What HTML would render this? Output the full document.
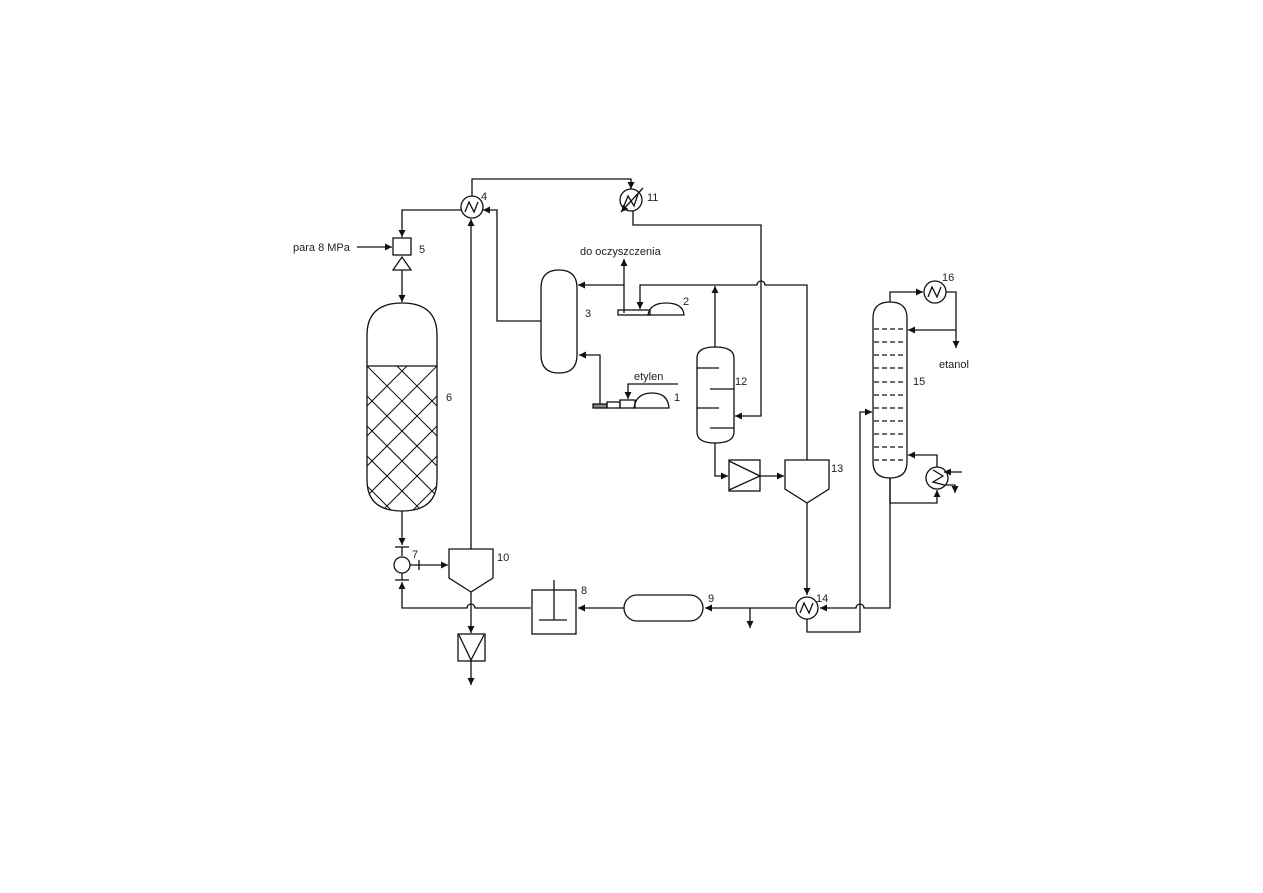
<!DOCTYPE html>
<html><head><meta charset="utf-8"><style>
html,body{margin:0;padding:0;background:#fff;}
svg{display:block;}
text{font-family:"Liberation Sans",sans-serif;font-size:11px;fill:#222;}
</style></head><body>
<svg width="1263" height="893" viewBox="0 0 1263 893" xmlns="http://www.w3.org/2000/svg">
<defs>
<marker id="a" viewBox="0 0 10 10" refX="10" refY="5" markerWidth="7" markerHeight="7" orient="auto-start-reverse" markerUnits="userSpaceOnUse">
<path d="M0,0 L10,5 L0,10 z" fill="#111"/></marker>
<clipPath id="hc"><rect x="367" y="366" width="70" height="150"/></clipPath>
<clipPath id="vc"><path d="M367,335 Q367,303 402,303 Q437,303 437,335 L437,480 Q437,511 402,511 Q367,511 367,480 Z"/></clipPath>
</defs>
<g fill="none" stroke="#111" stroke-width="1.3">
<!-- top loop 4 -> 11 -->
<path d="M472,196 V179 H631 V189" marker-end="url(#a)"/>
<circle cx="472" cy="207" r="11"/>
<path d="M465,212 L469,202 L474,212 L478,202"/>
<circle cx="631" cy="200" r="11"/>
<path d="M624,206 L628,196 L634,206 L638,194"/>
<path d="M643,188 L621,212" marker-end="url(#a)"/>
<path d="M633,211 V225 H761 V416 H735" marker-end="url(#a)"/>
<!-- 4 -> 5 -->
<path d="M461,210 H402 V237" marker-end="url(#a)"/>
<path d="M357,247 H392" marker-end="url(#a)"/>
<rect x="393" y="238" width="18" height="17"/>
<path d="M393,270 L402,257 L411,270 Z"/>
<path d="M402,270 V302" marker-end="url(#a)"/>
<!-- vessel 6 -->
<path d="M367,335 Q367,303 402,303 Q437,303 437,335 L437,480 Q437,511 402,511 Q367,511 367,480 Z"/>
<line x1="367" y1="366" x2="437" y2="366"/>
<g clip-path="url(#vc)"><g clip-path="url(#hc)" stroke-width="1">
<path d="M337,366 L487,516 M367,366 L517,516 M397,366 L547,516 M307,366 L457,516 M277,366 L427,516 M247,366 L397,516 M217,366 L367,516"/>
<path d="M467,366 L317,516 M437,366 L287,516 M407,366 L257,516 M497,366 L347,516 M527,366 L377,516 M557,366 L407,516 M587,366 L437,516"/>
</g></g>
<!-- 6 -> 7 -->
<path d="M402,511 V545" marker-end="url(#a)"/>
<line x1="395" y1="547" x2="409" y2="547"/>
<line x1="402" y1="547" x2="402" y2="556"/>
<circle cx="402" cy="565" r="8"/>
<line x1="402" y1="573" x2="402" y2="580"/>
<line x1="395" y1="580" x2="409" y2="580"/>
<path d="M410,565 H448" marker-end="url(#a)"/>
<line x1="419" y1="560" x2="419" y2="570"/>
<!-- 10 -->
<path d="M449,549 H493 V578 L471,592 L449,578 Z"/>
<path d="M471,549 V219" marker-end="url(#a)"/>
<path d="M471,592 V633" marker-end="url(#a)"/>
<rect x="458" y="634" width="27" height="27"/>
<path d="M459,635 L471,660 L484,635"/>
<path d="M471,661 V685" marker-end="url(#a)"/>
<!-- return from 8 -->
<path d="M531,608 H475 A4,4 0 0 0 467,608 H402 V582" marker-end="url(#a)"/>
<rect x="532" y="590" width="44" height="44"/>
<line x1="554" y1="580" x2="554" y2="620"/>
<line x1="539" y1="620" x2="567" y2="620"/>
<!-- 9 -->
<rect x="624" y="595" width="79" height="26" rx="13"/>
<path d="M624,608 H578" marker-end="url(#a)"/>
<path d="M795,608 H705" marker-end="url(#a)"/>
<path d="M750,608 V628" marker-end="url(#a)"/>
<!-- 14 -->
<circle cx="807" cy="608" r="11"/>
<path d="M800,613 L804,603 L809,613 L813,603"/>
<path d="M890,478 V608 H864 A4,4 0 0 0 856,608 H820" marker-end="url(#a)"/>
<path d="M807,619 V632 H860 V412 H872" marker-end="url(#a)"/>
<!-- 13 -->
<path d="M785,460 H829 V489 L807,503 L785,489 Z"/>
<path d="M807,503 V595" marker-end="url(#a)"/>
<path d="M807,460 V285 H765 A4,4 0 0 0 757,285 H640 V309" marker-end="url(#a)"/>
<!-- 12 -->
<path d="M697,358 Q697,347 715,347 Q734,347 734,358 L734,432 Q734,443 715,443 Q697,443 697,432 Z"/>
<line x1="697" y1="368" x2="719" y2="368"/>
<line x1="710" y1="389" x2="734" y2="389"/>
<line x1="697" y1="408" x2="719" y2="408"/>
<line x1="710" y1="428" x2="734" y2="428"/>
<path d="M715,347 V286" marker-end="url(#a)"/>
<path d="M715,443 V476 H728" marker-end="url(#a)"/>
<rect x="729" y="460" width="31" height="31"/>
<path d="M729,461 L760,476 L729,490"/>
<path d="M760,476 H784" marker-end="url(#a)"/>
<!-- 3 -->
<path d="M541,288 Q541,270 559,270 Q577,270 577,288 L577,355 Q577,373 559,373 Q541,373 541,355 Z"/>
<path d="M541,321 H497 V210 H483" marker-end="url(#a)"/>
<path d="M624,313 V285 H578" marker-end="url(#a)"/>
<path d="M624,285 V259" marker-end="url(#a)"/>
<!-- 2 -->
<rect x="618" y="310" width="32" height="5"/>
<path d="M648,315 Q650,303 666,303 Q683,303 684,315 Z"/>
<!-- 1 -->
<path d="M600,404 V355 H579" marker-end="url(#a)"/>
<rect x="593" y="404" width="14" height="4" fill="#888"/>
<rect x="607" y="402" width="13" height="6"/>
<rect x="620" y="400" width="15" height="8"/>
<path d="M634,408 Q636,393 652,393 Q668,393 669,408 Z"/>
<path d="M678,384 H628 V399" marker-end="url(#a)"/>
<!-- 15 -->
<path d="M873,318 Q873,302 890,302 Q907,302 907,318 L907,462 Q907,478 890,478 Q873,478 873,462 Z"/>
<g stroke-dasharray="5,3">
<line x1="874" y1="329" x2="906" y2="329"/><line x1="874" y1="342" x2="906" y2="342"/>
<line x1="874" y1="355" x2="906" y2="355"/><line x1="874" y1="368" x2="906" y2="368"/>
<line x1="874" y1="382" x2="906" y2="382"/><line x1="874" y1="395" x2="906" y2="395"/>
<line x1="874" y1="408" x2="906" y2="408"/><line x1="874" y1="421" x2="906" y2="421"/>
<line x1="874" y1="434" x2="906" y2="434"/><line x1="874" y1="447" x2="906" y2="447"/>
<line x1="874" y1="460" x2="906" y2="460"/>
</g>
<path d="M890,302 V292 H923" marker-end="url(#a)"/>
<circle cx="935" cy="292" r="11"/>
<path d="M928,297 L932,287 L937,297 L941,287"/>
<path d="M946,292 H956 V348" marker-end="url(#a)"/>
<path d="M956,330 H908" marker-end="url(#a)"/>
<circle cx="937" cy="478" r="11"/>
<path d="M933,470 L943,476 L933,482 L944,485 H955 V493" marker-end="url(#a)"/>
<path d="M962,472 H944" marker-end="url(#a)"/>
<path d="M890,478 V503 H937 V490" marker-end="url(#a)"/>
<path d="M937,467 V455 H908" marker-end="url(#a)"/>
</g>
<text x="293" y="251">para 8 MPa</text>
<text x="419" y="253">5</text>
<text x="481" y="200">4</text>
<text x="647" y="201">11</text>
<text x="580" y="255">do oczyszczenia</text>
<text x="585" y="317">3</text>
<text x="683" y="305">2</text>
<text x="634" y="380">etylen</text>
<text x="674" y="401">1</text>
<text x="446" y="401">6</text>
<text x="735" y="385">12</text>
<text x="831" y="472">13</text>
<text x="913" y="385">15</text>
<text x="942" y="281">16</text>
<text x="939" y="368">etanol</text>
<text x="412" y="558">7</text>
<text x="497" y="561">10</text>
<text x="581" y="594">8</text>
<text x="708" y="602">9</text>
<text x="816" y="602">14</text>
</svg>
</body></html>
